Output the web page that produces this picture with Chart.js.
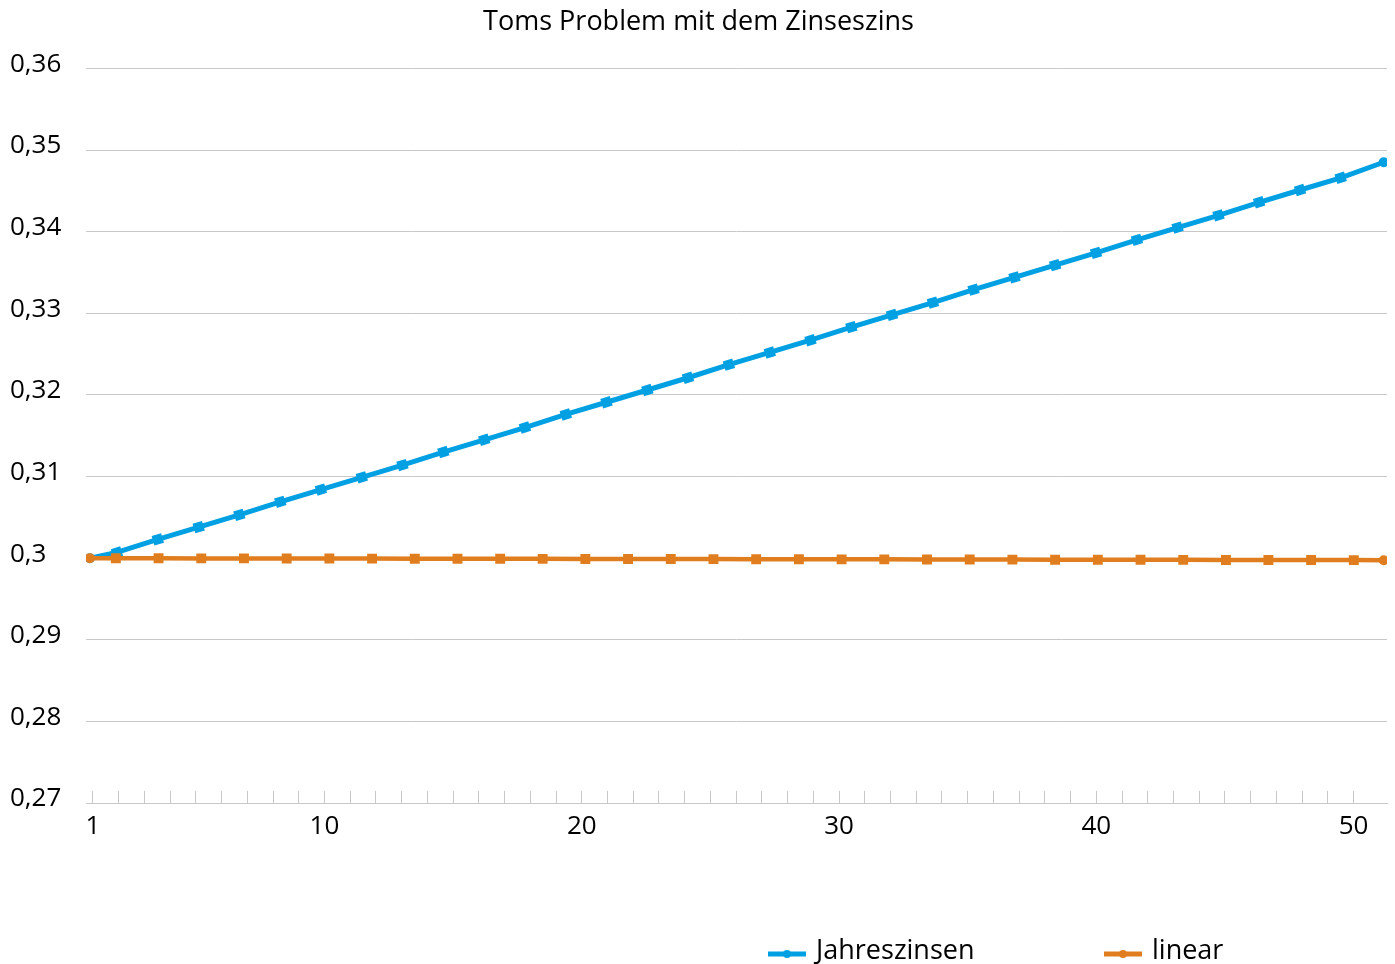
<!DOCTYPE html>
<html>
<head>
<meta charset="utf-8">
<script src="https://cdn.jsdelivr.net/npm/chart.js@4.4.0/dist/chart.umd.min.js"></script>
<style>
  html, body { margin: 0; padding: 0; background: #fff; }
</style>
</head>
<body>
<canvas id="zinsChart" width="1395" height="964"></canvas>
<script>
// values
const seriesNames = ["Jahreszinsen", "linear"];

const jahresX = [0.88, 1.93, 3.52, 5.11, 6.69, 8.28, 9.86, 11.45, 13.03, 14.62, 16.21, 17.79,
  19.38, 20.96, 22.55, 24.13, 25.72, 27.31, 28.89, 30.48, 32.06, 33.65, 35.23, 36.82,
  38.40, 39.99, 41.58, 43.16, 44.75, 46.33, 47.92, 49.50, 51.17];
const jahresY = [0.3000, 0.3007, 0.3023, 0.3038, 0.3053, 0.3069, 0.3084, 0.3099, 0.3114, 0.3130,
  0.3145, 0.3160, 0.3176, 0.3191, 0.3206, 0.3221, 0.3237, 0.3252, 0.3267, 0.3283,
  0.3298, 0.3313, 0.3329, 0.3344, 0.3359, 0.3374, 0.3390, 0.3405, 0.3420, 0.3436,
  0.3451, 0.3466, 0.3485];

const linearX = [0.88, 1.89, 3.55, 5.21, 6.87, 8.53, 10.19, 11.85, 13.51, 15.17, 16.83, 18.48,
  20.14, 21.80, 23.46, 25.12, 26.78, 28.44, 30.10, 31.76, 33.42, 35.08, 36.74, 38.40,
  40.06, 41.72, 43.38, 45.04, 46.69, 48.35, 50.01, 51.17];
const linearY = [0.30000, 0.29999, 0.29998, 0.29997, 0.29997, 0.29996, 0.29995, 0.29994,
  0.29993, 0.29993, 0.29992, 0.29991, 0.29990, 0.29989, 0.29989, 0.29988, 0.29987,
  0.29986, 0.29985, 0.29985, 0.29984, 0.29983, 0.29982, 0.29981, 0.29981, 0.29980,
  0.29979, 0.29978, 0.29977, 0.29977, 0.29976, 0.29975];

const xLabelValues = [1, 10, 20, 30, 40, 50];
const yTickValues = [0.27, 0.28, 0.29, 0.30, 0.31, 0.32, 0.33, 0.34, 0.35, 0.36];

const xTickValues = [];
for (let i = 1; i <= 50; i++) xTickValues.push(i);

const BLUE = "#00A0E3";
const ORANGE = "#E07E1F";
const GRID = "#C8C8C8";

Chart.defaults.font.family = "'Open Sans', sans-serif";
Chart.defaults.font.size = 26;
Chart.defaults.color = "#000";

// end points are round, the others square
const markerStyle = ctx => {
  const n = ctx.dataset.data.length;
  return (ctx.dataIndex === 0 || ctx.dataIndex === n - 1) ? "circle" : "rect";
};
const markerSize = ctx => {
  const n = ctx.dataset.data.length;
  return (ctx.dataIndex === 0 || ctx.dataIndex === n - 1) ? 5 : 7;
};

// legend drawn under the plot, shifted to the right like the original
const legendX = [768, 1104];
const bottomLegend = {
  id: "bottomLegend",
  afterDraw(chart) {
    const ctx = chart.ctx;
    const y = 951;
    ctx.save();
    ctx.font = "27px 'Open Sans'";
    ctx.textBaseline = "middle";
    chart.data.datasets.forEach((ds, i) => {
      const x = legendX[i];
      ctx.strokeStyle = ds.borderColor;
      ctx.lineWidth = 5;
      ctx.beginPath();
      ctx.moveTo(x, y + 3);
      ctx.lineTo(x + 38, y + 3);
      ctx.stroke();
      ctx.fillStyle = ds.borderColor;
      ctx.beginPath();
      ctx.arc(x + 19, y + 3, 4, 0, Math.PI * 2);
      ctx.fill();
      ctx.fillStyle = "#000";
      ctx.fillText(ds.label, x + 48, y);
    });
    ctx.restore();
  }
};

new Chart(document.getElementById("zinsChart"), {
  type: "line",
  data: {
    datasets: [{
      label: seriesNames[0],
      data: jahresX.map((x, i) => ({ x: x, y: jahresY[i] })),
      borderColor: BLUE,
      backgroundColor: BLUE,
      borderWidth: 5,
      pointStyle: markerStyle,
      pointRadius: markerSize,
      pointRotation: -17,
      pointBorderWidth: 0,
      order: 1
    }, {
      label: seriesNames[1],
      data: linearX.map((x, i) => ({ x: x, y: linearY[i] })),
      borderColor: ORANGE,
      backgroundColor: ORANGE,
      borderWidth: 4.5,
      pointStyle: markerStyle,
      pointRadius: markerSize,
      pointBorderWidth: 0,
      order: 0
    }]
  },
  options: {
    responsive: false,
    animation: false,
    layout: { padding: { left: 10, right: 8, top: 0, bottom: 0 } },
    plugins: {
      legend: { display: false },
      tooltip: { enabled: false },
      title: {
        display: true,
        text: "Toms Problem mit dem Zinseszins",
        font: { size: 27, weight: "normal" },
        color: "#000",
        padding: { top: 6, bottom: 30 }
      }
    },
    scales: {
      x: {
        type: "linear",
        min: 0.73,
        max: 51.3,
        afterBuildTicks: s => { s.ticks = xTickValues.map(v => ({ value: v })); },
        afterFit: s => { s.height = 161; },
        ticks: {
          autoSkip: false,
          maxRotation: 0,
          padding: 20,
          font: { size: 26 },
          callback: v => xLabelValues.includes(v) ? String(v) : ""
        },
        grid: { drawOnChartArea: false, drawTicks: true, tickLength: -12, color: GRID },
        border: { display: true, color: GRID, width: 1 }
      },
      y: {
        min: 0.27,
        max: 0.36,
        afterBuildTicks: s => { s.ticks = yTickValues.map(v => ({ value: v })); },
        afterFit: s => { s.width = 76; },
        ticks: {
          crossAlign: "far",
          padding: 0,
          labelOffset: -4,
          font: { size: 26 },
          callback: v => String(Number(v.toFixed(2))).replace(".", ",")
        },
        grid: { color: GRID, drawTicks: false },
        border: { display: false }
      }
    },
    elements: { line: { tension: 0 } }
  },
  plugins: [bottomLegend]
});
</script>
</body>
</html>
